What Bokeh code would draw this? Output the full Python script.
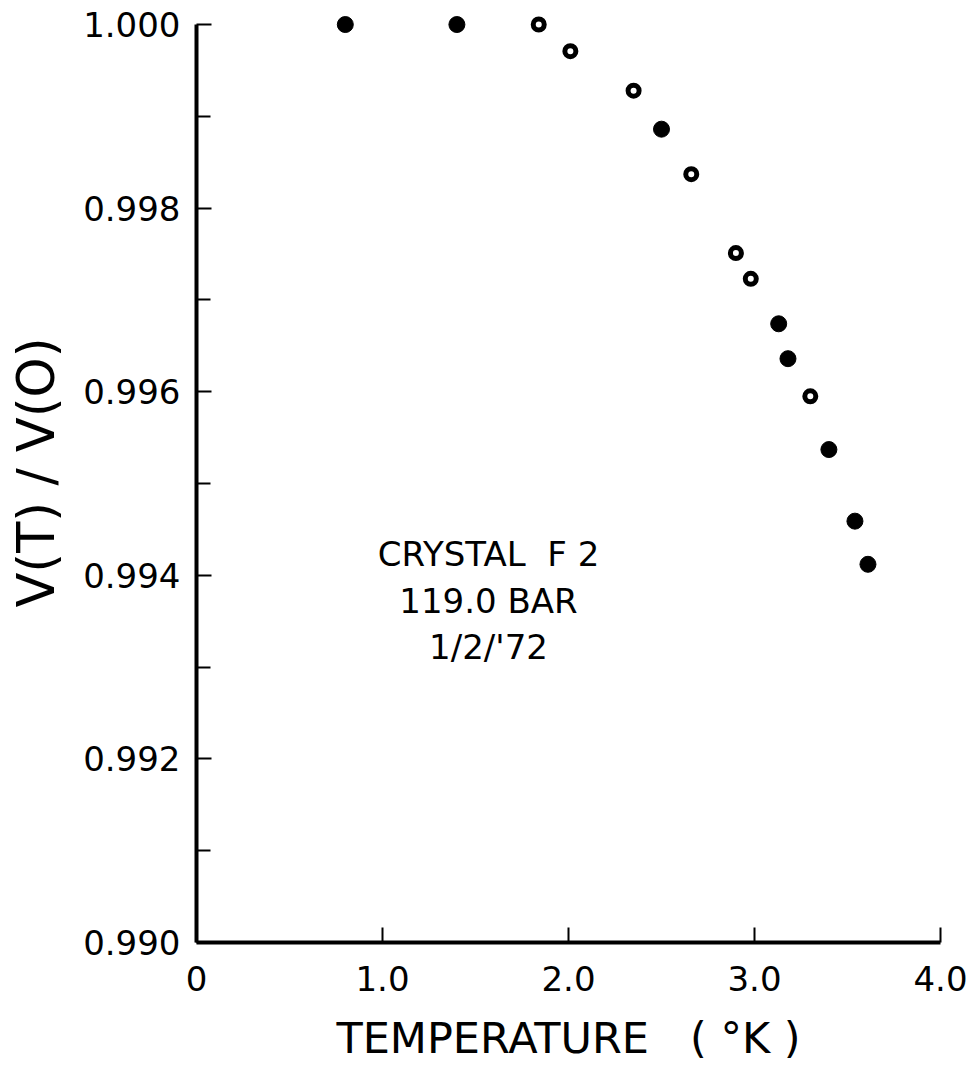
from bokeh.plotting import figure
from bokeh.models import Range1d, FixedTicker, Label
from bokeh.embed import file_html
from bokeh.resources import INLINE

# ---- data ----
temp_filled = [0.80, 1.40, 2.50, 3.13, 3.18, 3.40, 3.54, 3.61]
ratio_filled = [1.0000, 1.0000, 0.99886, 0.99674, 0.99636, 0.99537, 0.99459, 0.99412]
temp_open = [1.84, 2.01, 2.35, 2.66, 2.90, 2.98, 3.30]
ratio_open = [1.0000, 0.99971, 0.99928, 0.99837, 0.99751, 0.99723, 0.99595]

x_ticks = [0, 1, 2, 3, 4]
x_tick_labels = ["0", "1.0", "2.0", "3.0", "4.0"]
y_ticks = [0.990, 0.992, 0.994, 0.996, 0.998, 1.000]
y_tick_labels = ["0.990", "0.992", "0.994", "0.996", "0.998", "1.000"]
y_minor_ticks = [0.991, 0.993, 0.995, 0.997, 0.999]

NBSP = "\u00a0"
x_title = "TEMPERATURE" + NBSP * 3 + "(" + NBSP + "°K" + NBSP + ")"
y_title = "V(T) / V(O)"
note_lines = ["CRYSTAL" + NBSP * 2 + "F 2", "119.0 BAR", "1/2/'72"]

FONT = "DejaVu Sans"

p = figure(width=971, height=1074, output_backend="svg", toolbar_location=None,
           x_range=Range1d(0, 4.0), y_range=Range1d(0.990, 1.00024),
           min_border_left=196, min_border_right=31, min_border_top=2,
           min_border_bottom=132)
p.outline_line_color = None
p.grid.visible = False
p.background_fill_color = "white"
p.border_fill_color = "white"

# y axis
yax = p.yaxis[0]
yax.ticker = FixedTicker(ticks=y_ticks, minor_ticks=y_minor_ticks)
yax.major_label_overrides = dict(zip(y_ticks, y_tick_labels))
yax.bounds = (0.990, 1.000)
yax.axis_line_width = 4
yax.axis_line_color = "black"
yax.major_tick_in = 15
yax.major_tick_out = 0
yax.major_tick_line_width = 2
yax.minor_tick_in = 14
yax.minor_tick_out = 0
yax.minor_tick_line_width = 2
yax.major_label_text_font = FONT
yax.major_label_text_font_size = "34px"
yax.major_label_text_color = "black"
yax.major_label_standoff = 16
yax.axis_label = y_title
yax.axis_label_text_font = FONT
yax.axis_label_text_font_size = "51px"
yax.axis_label_text_font_style = "normal"
yax.axis_label_text_color = "black"
yax.axis_label_standoff = 14

# x axis
xax = p.xaxis[0]
xax.ticker = FixedTicker(ticks=x_ticks, minor_ticks=[])
xax.major_label_overrides = dict(zip(x_ticks, x_tick_labels))
xax.axis_line_width = 4
xax.axis_line_color = "black"
xax.major_tick_in = 15
xax.major_tick_out = 0
xax.major_tick_line_width = 2
xax.major_label_text_font = FONT
xax.major_label_text_font_size = "34px"
xax.major_label_text_color = "black"
xax.major_label_standoff = 23
xax.axis_label = x_title
xax.axis_label_text_font = FONT
xax.axis_label_text_font_size = "43px"
xax.axis_label_text_font_style = "normal"
xax.axis_label_text_color = "black"
xax.axis_label_standoff = 19

# data points
p.scatter(temp_filled, ratio_filled, size=16, fill_color="black", line_color="black")
p.scatter(temp_open, ratio_open, size=11, fill_color="white", line_color="black",
          line_width=5)

# annotation block
note = Label(x=1.57, y=0.993725, text="\n".join(note_lines), text_align="center",
             text_baseline="middle", text_font=FONT, text_font_size="34px",
             text_color="black", text_line_height=1.16)
p.add_layout(note)

open("out.html", "w").write(file_html(p, INLINE))
